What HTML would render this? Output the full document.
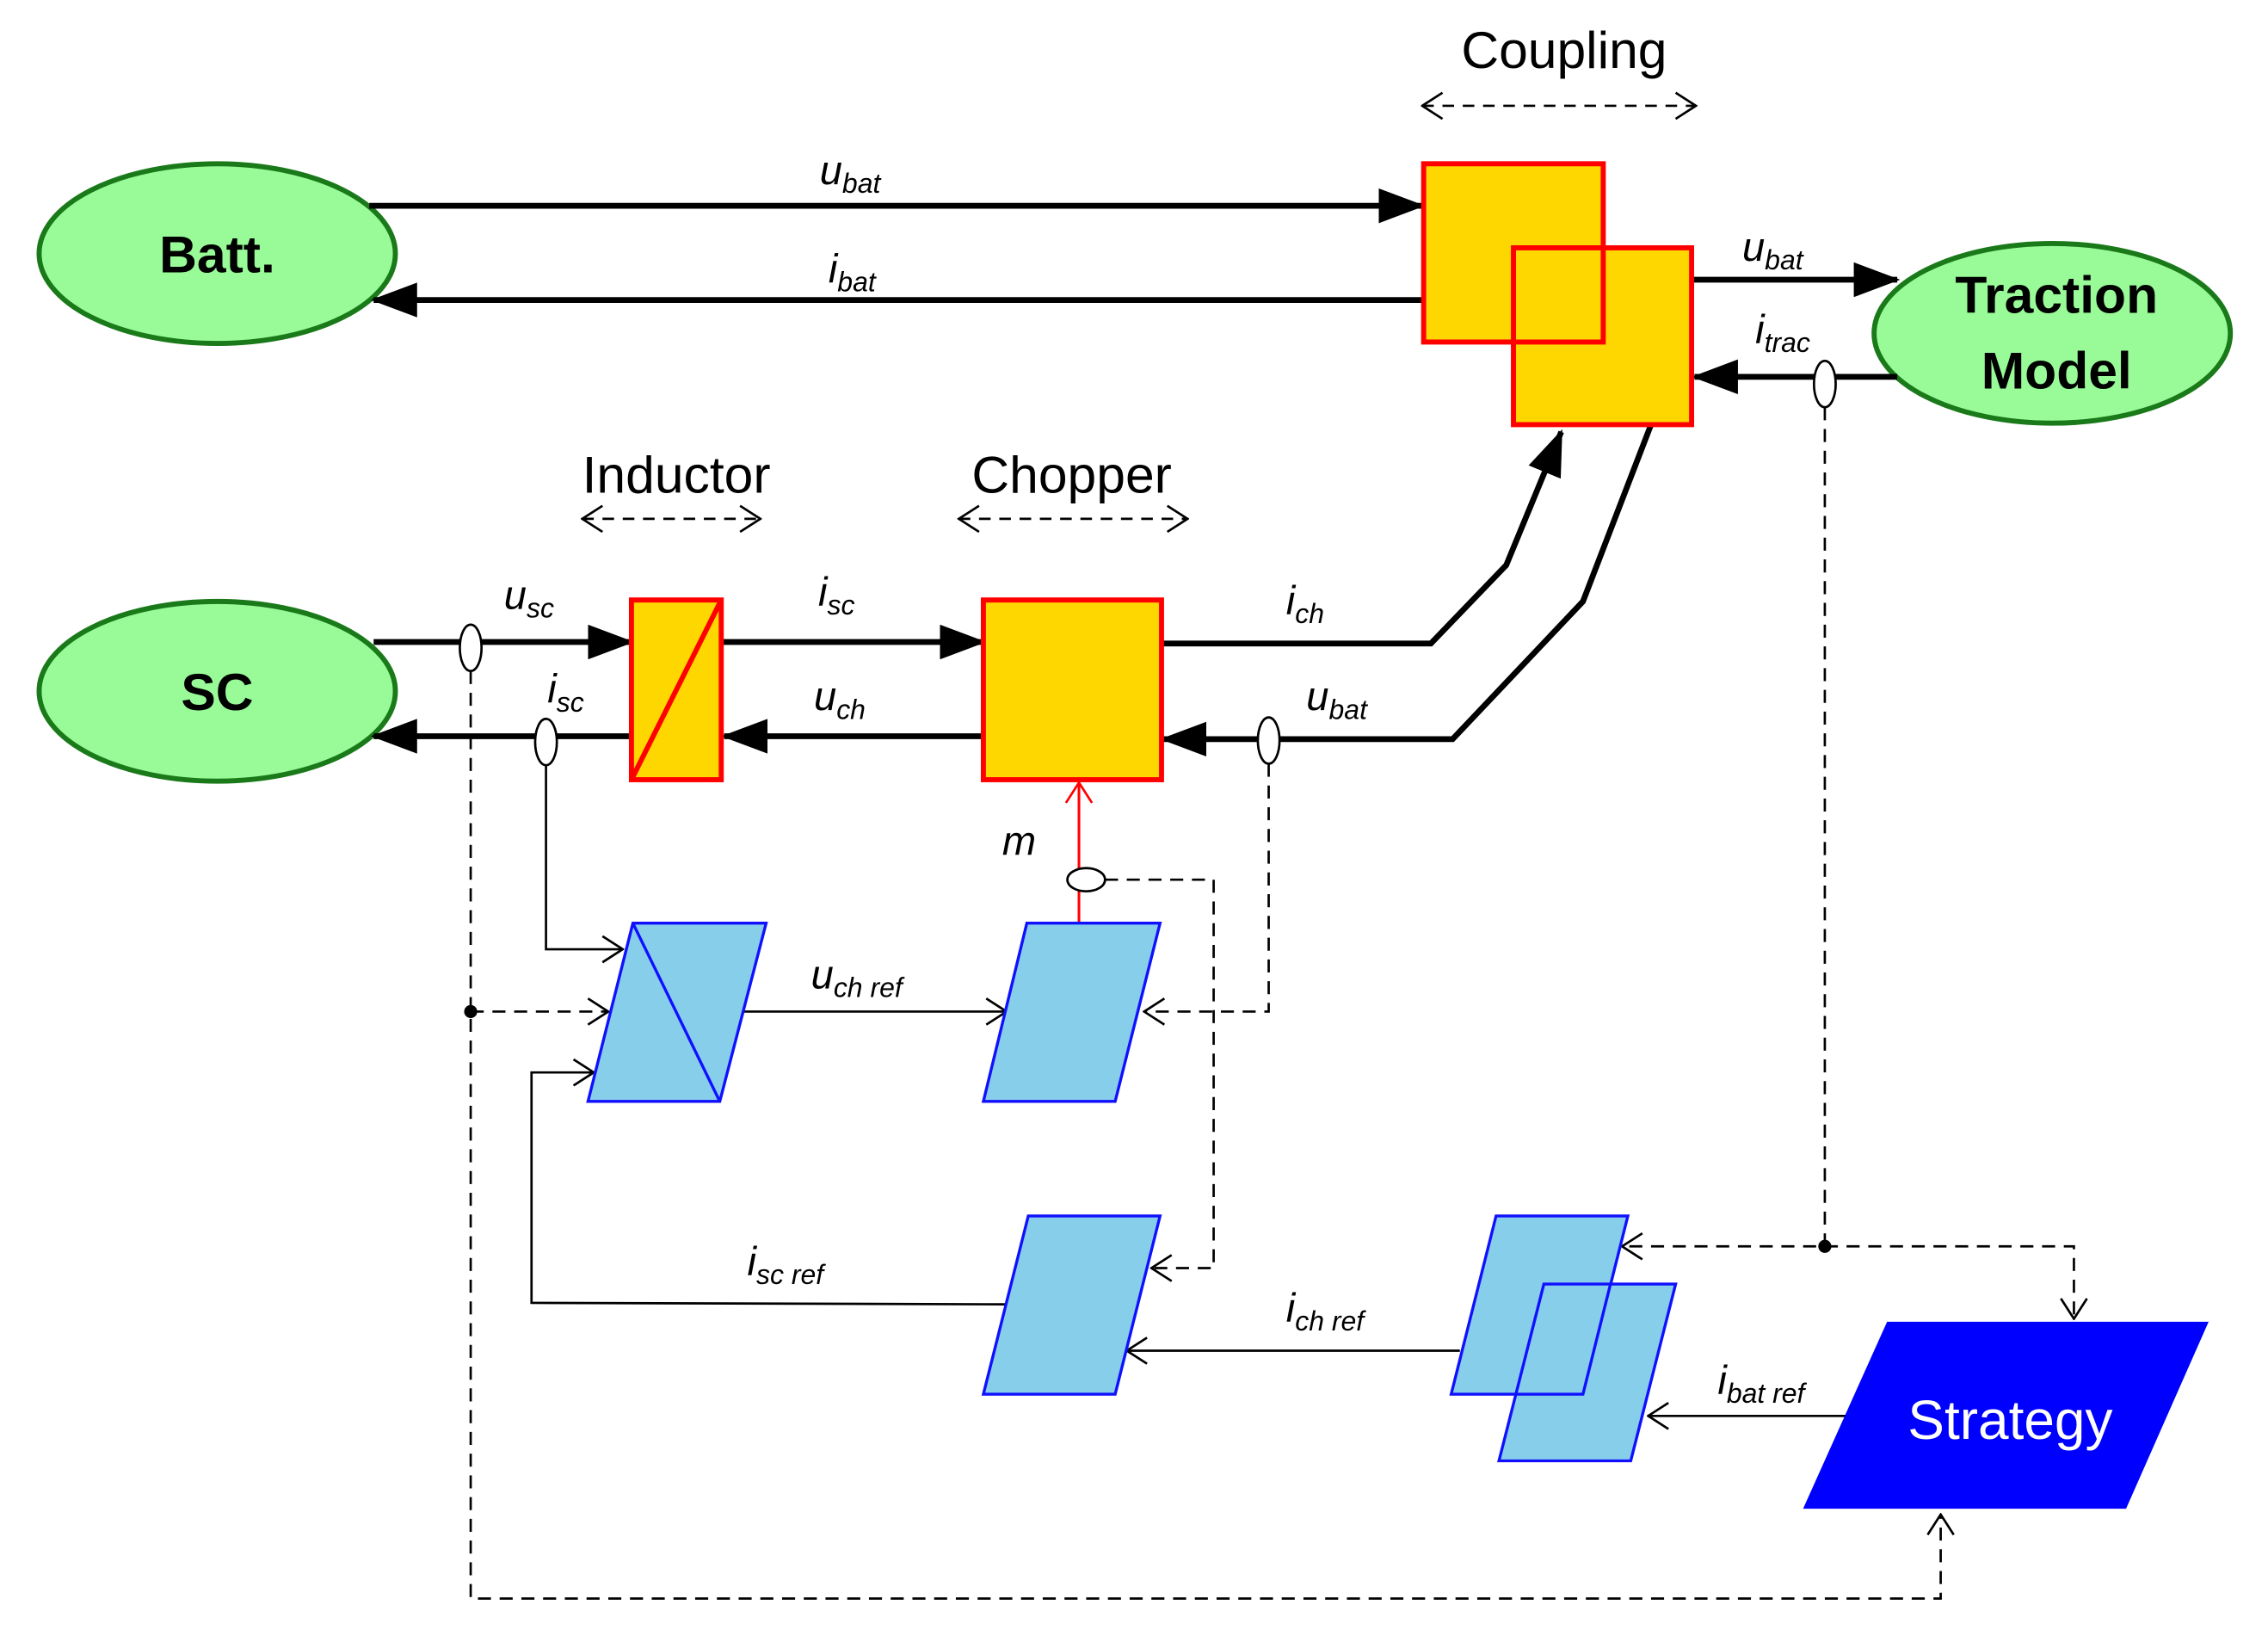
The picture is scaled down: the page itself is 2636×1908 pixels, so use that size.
<!DOCTYPE html>
<html><head><meta charset="utf-8"><style>
html,body{margin:0;padding:0;background:#fff;}
svg{display:block;}
text{font-family:"Liberation Sans",sans-serif;}
.lb{font-style:italic;font-size:28px;}
.sb{font-size:19px;}
</style></head><body>
<svg width="2636" height="1908" viewBox="0 0 1566 1133" preserveAspectRatio="none" xmlns="http://www.w3.org/2000/svg">
<defs>
<marker id="F" markerWidth="32" markerHeight="24" refX="30" refY="12" orient="auto" markerUnits="userSpaceOnUse"><path d="M0,0 L32,12 L0,24 Z" fill="#000"/></marker>
<marker id="O" markerWidth="16" markerHeight="20" refX="15" refY="10" orient="auto" markerUnits="userSpaceOnUse"><path d="M1,1 L15,10 L1,19" fill="none" stroke="#000" stroke-width="1.6"/></marker>
<marker id="R" markerWidth="16" markerHeight="20" refX="15" refY="10" orient="auto" markerUnits="userSpaceOnUse"><path d="M1,1 L15,10 L1,19" fill="none" stroke="#f00" stroke-width="1.6"/></marker>
<marker id="OS" markerWidth="16" markerHeight="20" refX="1" refY="10" orient="auto" markerUnits="userSpaceOnUse"><path d="M15,1 L1,10 L15,19" fill="none" stroke="#000" stroke-width="1.6"/></marker>
</defs>

<g fill="#98fb98" stroke="#1a7a1a" stroke-width="3.5">
<ellipse cx="150" cy="175" rx="123" ry="62"/>
<ellipse cx="150" cy="477" rx="123" ry="62"/>
<ellipse cx="1417" cy="230" rx="123" ry="62"/>
</g>
<g font-weight="bold" font-size="36" text-anchor="middle">
<text x="150" y="188">Batt.</text>
<text x="150" y="490">SC</text>
<text x="1420" y="216">Traction</text>
<text x="1420" y="268">Model</text>
</g>

<g font-size="36" text-anchor="middle">
<text x="1080" y="47">Coupling</text>
<text x="467" y="340">Inductor</text>
<text x="740" y="340">Chopper</text>
</g>
<g stroke="#000" stroke-width="1.6" stroke-dasharray="8,6" fill="none">
<line x1="982" y1="73" x2="1171" y2="73" marker-start="url(#OS)" marker-end="url(#O)"/>
<line x1="402" y1="358" x2="525" y2="358" marker-start="url(#OS)" marker-end="url(#O)"/>
<line x1="662" y1="358" x2="820" y2="358" marker-start="url(#OS)" marker-end="url(#O)"/>
</g>

<g stroke="#000" stroke-width="4" fill="none" marker-end="url(#F)">
<line x1="255" y1="142" x2="982" y2="142"/>
<line x1="983" y1="207" x2="258" y2="207"/>
<line x1="1168" y1="193" x2="1310" y2="193"/>
<line x1="1310" y1="260" x2="1170" y2="260"/>
<line x1="258" y1="443" x2="436" y2="443"/>
<line x1="436" y1="508" x2="258" y2="508"/>
<line x1="498" y1="443" x2="679" y2="443"/>
<line x1="679" y1="508" x2="500" y2="508"/>
<polyline points="802,444 988,444 1040,390 1078,298"/>
<polyline points="1140,293 1093,415 1003,510 803,510"/>
</g>

<g fill="#ffd700" stroke="#f00" stroke-width="3.5">
<rect x="983" y="113" width="124" height="123"/>
<rect x="1045" y="171" width="123" height="122"/>
<rect x="679" y="414" width="123" height="124"/>
<rect x="436" y="414" width="62" height="124"/>
</g>
<path d="M1045,236 L1107,236 L1107,171" fill="none" stroke="#f00" stroke-width="3.5"/>
<line x1="436" y1="538" x2="498" y2="414" stroke="#f00" stroke-width="3.5"/>

<line x1="745" y1="637" x2="745" y2="540" stroke="#f00" stroke-width="1.8" marker-end="url(#R)"/>

<g stroke="#000" stroke-width="1.6" fill="none" marker-end="url(#O)">
<line x1="513" y1="698" x2="695" y2="698"/>
<polyline points="377,528 377,655 430,655"/>
<polyline points="695,900 367,899 367,740 410,740"/>
<line x1="1008" y1="932" x2="778" y2="932"/>
<line x1="1290" y1="977" x2="1138" y2="977"/>
</g>
<g stroke="#000" stroke-width="1.6" fill="none" stroke-dasharray="9,6" marker-end="url(#O)">
<polyline points="325,463 325,1103 1340,1103 1340,1045"/>
<line x1="325" y1="698" x2="420" y2="698"/>
<polyline points="763,607 838,607 838,875 795,875"/>
<polyline points="876,527 876,698 790,698"/>
<polyline points="1260,281 1260,860 1120,860"/>
<polyline points="1260,860 1432,860 1432,910"/>
</g>
<circle cx="325" cy="698" r="4.5" fill="#000"/>
<circle cx="1260" cy="860" r="4.5" fill="#000"/>

<g fill="#fff" stroke="#000" stroke-width="1.6">
<ellipse cx="325" cy="447" rx="7.5" ry="16"/>
<ellipse cx="377" cy="512" rx="7.5" ry="16"/>
<ellipse cx="876" cy="511" rx="7.5" ry="16"/>
<ellipse cx="1260" cy="265" rx="7.5" ry="16"/>
<ellipse cx="750" cy="607" rx="13" ry="8"/>
</g>

<g fill="#87ceeb" stroke="#1010ff" stroke-width="2">
<polygon points="437,637 529,637 497,760 406,760"/>
<polygon points="709,637 801,637 770,760 679,760"/>
<polygon points="710,839 801,839 770,962 679,962"/>
<polygon points="1033,839 1124,839 1093,962 1002,962"/>
<polygon points="1066,886 1157,886 1126,1008 1035,1008"/>
</g>
<polyline points="1112,886 1093,962 1047,962" fill="none" stroke="#1010ff" stroke-width="2"/>
<line x1="437" y1="637" x2="497" y2="760" stroke="#1010ff" stroke-width="2"/>
<polygon points="1303,912 1525,912 1468,1041 1245,1041" fill="#0000ff"/>
<text x="1388" y="993" fill="#fff" font-size="38" text-anchor="middle">Strategy</text>

<g class="lb">
<text x="566" y="127">u<tspan class="sb" dy="6">bat</tspan></text>
<text x="572" y="195">i<tspan class="sb" dy="6">bat</tspan></text>
<text x="1203" y="180">u<tspan class="sb" dy="6">bat</tspan></text>
<text x="1212" y="237">i<tspan class="sb" dy="6">trac</tspan></text>
<text x="348" y="420">u<tspan class="sb" dy="6">sc</tspan></text>
<text x="378" y="485">i<tspan class="sb" dy="6">sc</tspan></text>
<text x="565" y="418">i<tspan class="sb" dy="6">sc</tspan></text>
<text x="562" y="490">u<tspan class="sb" dy="6">ch</tspan></text>
<text x="888" y="424">i<tspan class="sb" dy="6">ch</tspan></text>
<text x="902" y="490">u<tspan class="sb" dy="6">bat</tspan></text>
<text x="692" y="590">m</text>
<text x="560" y="682">u<tspan class="sb" dy="6">ch ref</tspan></text>
<text x="516" y="880">i<tspan class="sb" dy="6">sc ref</tspan></text>
<text x="888" y="912">i<tspan class="sb" dy="6">ch ref</tspan></text>
<text x="1186" y="962">i<tspan class="sb" dy="6">bat ref</tspan></text>
</g>
</svg>
</body></html>
